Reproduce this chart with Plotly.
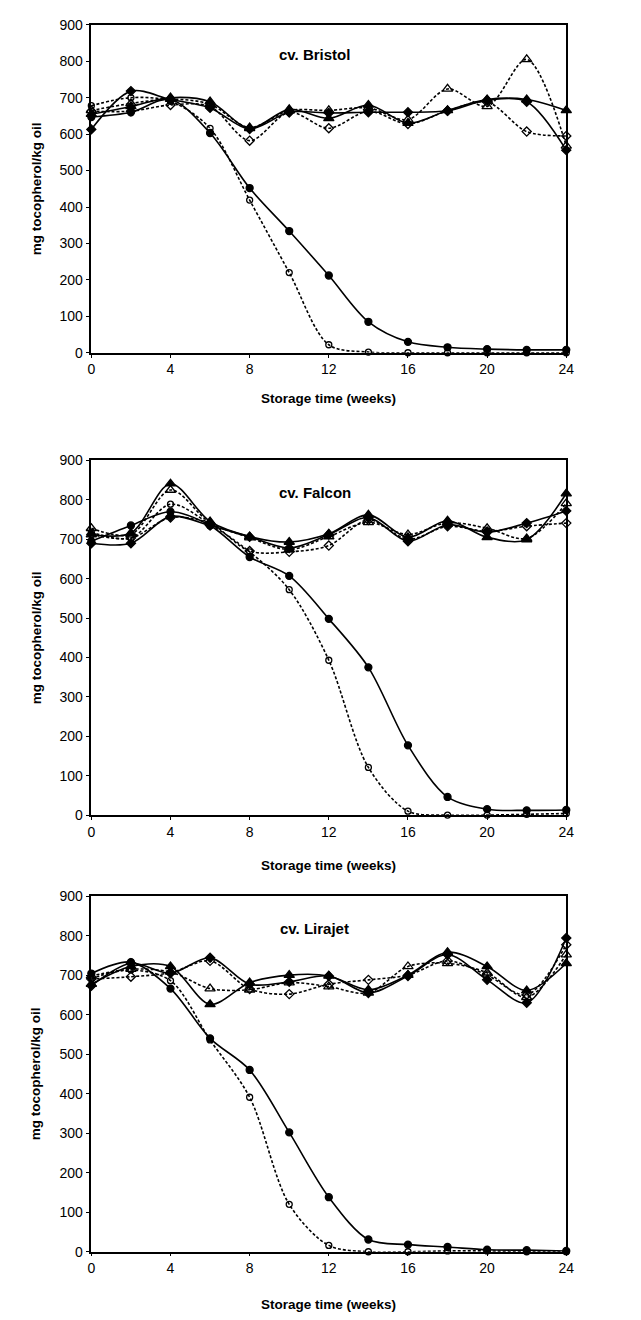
import plotly.graph_objects as go

# ---------------- data ----------------
weeks = [0, 2, 4, 6, 8, 10, 12, 14, 16, 18, 20, 22, 24]
x_ticks = [0, 4, 8, 12, 16, 20, 24]
y_ticks = [0, 100, 200, 300, 400, 500, 600, 700, 800, 900]
panel_titles = ["cv. Bristol", "cv. Falcon", "cv. Lirajet"]
x_title = "Storage time (weeks)"
y_title = "mg tocopherol/kg oil"

# Bristol
bristol_circle_f = [647, 660, 695, 603, 452, 334, 212, 85, 30, 15, 10, 8, 8]
bristol_circle_o = [678, 700, 690, 616, 419, 220, 22, 2, 0, 0, 0, 0, 0]
bristol_tri_f = [655, 676, 700, 689, 616, 668, 643, 680, 630, 665, 695, 695, 665]
bristol_tri_o = [665, 684, 696, 682, 618, 665, 665, 672, 640, 724, 676, 805, 568]
bristol_dia_f = [613, 718, 695, 672, 614, 660, 658, 660, 660, 664, 693, 689, 556]
bristol_dia_o = [663, 663, 680, 676, 582, 660, 616, 663, 628, 664, 688, 607, 595]

# Falcon
falcon_circle_f = [695, 735, 770, 735, 655, 607, 498, 375, 177, 46, 15, 12, 13]
falcon_circle_o = [718, 703, 789, 738, 668, 572, 393, 121, 10, 0, 0, 2, 4]
falcon_tri_f = [712, 716, 841, 745, 707, 693, 714, 762, 705, 747, 705, 699, 816]
falcon_tri_o = [728, 712, 825, 742, 704, 674, 707, 743, 712, 742, 728, 702, 791]
falcon_dia_f = [690, 690, 758, 735, 706, 678, 712, 755, 695, 737, 718, 741, 772]
falcon_dia_o = [712, 703, 755, 740, 670, 668, 684, 749, 700, 733, 720, 733, 741]

# Lirajet
lirajet_circle_f = [704, 733, 666, 540, 460, 302, 138, 31, 18, 12, 5, 4, 2]
lirajet_circle_o = [692, 713, 686, 536, 391, 120, 16, 0, 0, 2, 2, 0, 0]
lirajet_tri_f = [677, 722, 722, 626, 681, 700, 698, 663, 700, 758, 722, 661, 730]
lirajet_tri_o = [698, 715, 708, 666, 663, 681, 671, 655, 722, 730, 706, 644, 752]
lirajet_dia_f = [673, 730, 705, 744, 677, 683, 698, 655, 698, 752, 688, 630, 794]
lirajet_dia_o = [690, 696, 706, 736, 665, 652, 677, 688, 700, 736, 700, 650, 777]

panels = [
    [bristol_circle_f, bristol_circle_o, bristol_tri_f, bristol_tri_o, bristol_dia_f, bristol_dia_o],
    [falcon_circle_f, falcon_circle_o, falcon_tri_f, falcon_tri_o, falcon_dia_f, falcon_dia_o],
    [lirajet_circle_f, lirajet_circle_o, lirajet_tri_f, lirajet_tri_o, lirajet_dia_f, lirajet_dia_o],
]

# ---------------- styles ----------------
DOT = "3px,2px"
series_styles = [
    dict(symbol="circle", size=7, dash="solid"),
    dict(symbol="circle-open", size=6, dash=DOT),
    dict(symbol="triangle-up", size=9, dash="solid"),
    dict(symbol="triangle-up-open", size=9, dash=DOT),
    dict(symbol="diamond", size=7, dash="solid"),
    dict(symbol="diamond-open", size=7, dash=DOT),
]

W, H = 641, 1320
FONT = "Liberation Sans, Arial, sans-serif"

# pixel geometry of the plot areas
x_left, x_right = 89, 573
panel_px = [(17, 349), (458, 817), (899, 1259)]
xtitle_px = [395, 868, 1312]


def py(p):
    return 1 - p / H


fig = go.Figure()
layout = dict(
    width=W, height=H,
    margin=dict(l=0, r=0, t=0, b=0),
    paper_bgcolor="white", plot_bgcolor="white",
    showlegend=False,
    font=dict(family=FONT, size=14, color="black"),
)
annotations = []

for i, (series, (top, bot)) in enumerate(zip(panels, panel_px)):
    suf = "" if i == 0 else str(i + 1)
    xa, ya = "x" + suf, "y" + suf
    for vals, st in zip(series, series_styles):
        fig.add_trace(go.Scatter(
            x=weeks, y=vals, xaxis=xa, yaxis=ya, mode="lines+markers",
            line=dict(color="black", width=1.6, dash=st["dash"], shape="spline", smoothing=0.9),
            marker=dict(symbol=st["symbol"], size=st["size"], color="black",
                        line=dict(color="black", width=1.3)),
            cliponaxis=False,
        ))
    common_axis = dict(showline=True, linecolor="black", linewidth=1.5, mirror=True,
                       showgrid=False, zeroline=False, ticks="outside", ticklen=4,
                       tickcolor="black", tickwidth=1,
                       tickfont=dict(family=FONT, size=14, color="black"))
    layout["xaxis" + suf] = dict(common_axis, domain=[x_left / W, x_right / W], range=[0, 24],
                                 tickvals=x_ticks, anchor=ya, ticklen=3)
    layout["yaxis" + suf] = dict(common_axis, domain=[py(bot), py(top)], range=[0, 900],
                                 tickvals=y_ticks, anchor=xa)
    # panel title
    annotations.append(dict(text="<b>%s</b>" % panel_titles[i], xref=xa, yref=ya,
                            x=11.3, y=818, showarrow=False,
                            font=dict(family=FONT, size=15, color="black")))
    # x axis title
    annotations.append(dict(text="<b>%s</b>" % x_title, xref="paper", yref="paper",
                            x=(x_left + x_right) / 2 / W, y=py(xtitle_px[i]), showarrow=False,
                            yanchor="middle", font=dict(family=FONT, size=13.5, color="black")))
    # y axis title
    annotations.append(dict(text="<b>%s</b>" % y_title, xref="paper", yref="paper",
                            x=33 / W, y=py((top + bot) / 2), textangle=-90, showarrow=False,
                            xanchor="center", yanchor="middle",
                            font=dict(family=FONT, size=13.5, color="black")))

layout["annotations"] = annotations
fig.update_layout(**layout)
fig.write_html("out.html")
